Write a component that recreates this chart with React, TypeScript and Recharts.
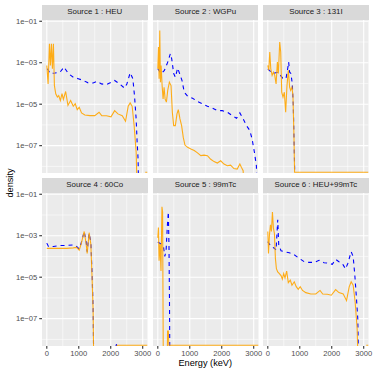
import React from 'react';
import { LineChart, Line, XAxis, YAxis, CartesianGrid } from 'recharts';

// ---- axes / labels ----
const ENERGY_TICKS = [0, 1000, 2000, 3000];
const ENERGY_MINOR = [500, 1500, 2500];
const DENSITY_TICKS = [1e-1, 1e-3, 1e-5, 1e-7];
const DENSITY_TICK_LABELS = ['1e\u221201', '1e\u221203', '1e\u221205', '1e\u221207'];
const DENSITY_MINOR = [1e-2, 1e-4, 1e-6, 1e-8];
const PANEL_TITLES = [
  'Source 1 : HEU',
  'Source 2 : WGPu',
  'Source 3 : 131I',
  'Source 4 : 60Co',
  'Source 5 : 99mTc',
  'Source 6 : HEU+99mTc',
];
const FLOOR = 5.2e-9; // values drawn on the lower panel edge
const OFF = 1e-10; // below the visible range

// ---- Source 1 : HEU ----
const heuBlueE = [21, 104, 259, 414, 538, 673, 828, 983, 1139, 1294, 1449, 1573, 1708, 1863, 2018, 2122, 2277, 2432, 2505, 2608, 2691, 2743, 2795, 2826, 2856, 2880];
const heuBlueD = [5.1e-4, 3.0e-4, 3.2e-4, 3.5e-4, 6.2e-4, 3.0e-4, 2.0e-4, 1.7e-4, 1.4e-4, 1.07e-4, 1.05e-4, 1.26e-4, 9.5e-5, 8.9e-5, 1.15e-4, 1.4e-4, 9.5e-5, 5.9e-5, 9.5e-5, 3.3e-4, 1.7e-4, 2.6e-5, 1.95e-6, 1.45e-7, 2.2e-8, OFF];
const heuOrangeE = [0, 41, 83, 114, 145, 176, 207, 238, 280, 331, 373, 424, 476, 518, 590, 662, 745, 828, 890, 952, 1014, 1087, 1190, 1346, 1501, 1635, 1718, 1863, 2008, 2122, 2225, 2360, 2463, 2546, 2608, 2670, 2732, 2795, 2840, 2950, 3080, 3150];
const heuOrangeD = [7.4e-4, 9.5e-5, 8.3e-3, 7.4e-4, 8.3e-3, 5.1e-4, 8.3e-3, 7.9e-5, 3.2e-5, 2.2e-5, 2.6e-5, 1.5e-5, 3.2e-5, 1.7e-5, 4.1e-5, 8.7e-6, 1.5e-5, 7.9e-6, 1.05e-5, 5.5e-6, 7.1e-6, 3.8e-6, 3.0e-6, 2.8e-6, 2.8e-6, 4.1e-6, 2.8e-6, 2.75e-6, 2.45e-6, 4.9e-6, 3.4e-6, 2.8e-6, 1.5e-6, 7.9e-6, 1.15e-5, 7.9e-6, 9.3e-7, 4.8e-8, OFF, null, FLOOR, FLOOR];

// ---- Source 2 : WGPu ----
const wgpuBlueE = [0, 104, 207, 311, 393, 435, 497, 549, 621, 683, 756, 828, 932, 1087, 1242, 1397, 1553, 1708, 1863, 2018, 2174, 2329, 2463, 2567, 2670, 2774, 2877, 2950, 3022, 3084, 3126];
const wgpuBlueD = [5.1e-4, 3.0e-4, 4.3e-4, 1.07e-3, 2.75e-3, 1.55e-3, 3.0e-4, 2.0e-4, 5.5e-4, 3.0e-4, 1.4e-4, 3.8e-5, 2.45e-5, 1.95e-5, 1.35e-5, 1.05e-5, 7.9e-6, 6.5e-6, 4.9e-6, 4.9e-6, 4.1e-6, 2.8e-6, 2.1e-6, 3.8e-6, 1.95e-6, 9.3e-7, 5.4e-7, 2.1e-7, 4.8e-8, 1.07e-8, OFF];
const wgpuOrangeE = [0, 21, 41, 62, 83, 104, 135, 166, 197, 228, 269, 311, 362, 414, 455, 497, 549, 600, 642, 693, 745, 797, 849, 932, 1035, 1139, 1242, 1346, 1449, 1553, 1656, 1760, 1863, 1967, 2070, 2174, 2277, 2380, 2484, 2567, 2618, 2670, 2710];
const wgpuOrangeD = [5.1e-4, 5.8e-3, 1.7e-4, 3.6e-2, 1.15e-4, 7.4e-4, 7.9e-5, 1.8e-5, 6.6e-5, 1.8e-5, 1.26e-5, 4.6e-5, 1.15e-4, 7.9e-5, 4.1e-6, 9.3e-7, 9.3e-7, 3.4e-6, 5.5e-6, 1.95e-6, 9.3e-7, 2.5e-7, 1.07e-7, 8.3e-8, 6.9e-8, 5.8e-8, 4.5e-8, 3.3e-8, 3.5e-8, 3.3e-8, 2.2e-8, 1.7e-8, 1.45e-8, 1.86e-8, 1.3e-8, 1.07e-8, 1.15e-8, 7.9e-9, 7.4e-9, 1.3e-8, 8.9e-9, 6.2e-9, OFF];

// ---- Source 3 : 131I ----
const i131BlueE = [0, 155, 311, 466, 569, 621, 652, 683, 724, 766, 797, 818, 838, 850];
const i131BlueD = [5.1e-4, 3.0e-4, 3.5e-4, 1.8e-4, 1.7e-4, 5.1e-4, 1.07e-3, 3.5e-4, 3.0e-4, 9.5e-5, 8.7e-6, 3.0e-7, 1.07e-8, OFF];
const i131OrangeE = [0, 31, 62, 93, 135, 176, 217, 259, 300, 331, 373, 404, 435, 476, 518, 559, 600, 642, 683, 714, 756, 787, 818, 838, 3150];
const i131OrangeD = [7.4e-4, 4.3e-4, 3.3e-3, 5.1e-4, 2.45e-4, 3.5e-4, 2.45e-4, 9.5e-5, 1.07e-3, 3.0e-4, 1.0e-2, 3.3e-3, 3.8e-5, 2.2e-5, 3.8e-5, 4.1e-6, 7.9e-5, 4.3e-4, 6.6e-5, 4.6e-5, 6.6e-5, 2.6e-5, 3.0e-7, FLOOR, FLOOR];

// ---- Source 4 : 60Co ----
const co60BlueE = [0, 52, 207, 414, 621, 828, 932, 1014, 1076, 1170, 1232, 1263, 1325, 1377, 1418, 1449, 1475, 1800, 2110, 2174, 2230];
const co60BlueD = [4.4e-4, 3.0e-4, 3.0e-4, 3.4e-4, 3.4e-4, 3.6e-4, 3.0e-4, 2.3e-4, 4.4e-4, 1.6e-3, 5.1e-4, 1.7e-4, 1.3e-3, 5.1e-4, 1.26e-5, 3.0e-7, OFF, null, OFF, 7.1e-9, OFF];
const co60OrangeE = [0, 207, 414, 621, 828, 932, 1014, 1076, 1170, 1232, 1263, 1325, 1377, 1418, 1449, 1475, 1800, 2150, 2200, 3150];
const co60OrangeD = [2.45e-4, 2.45e-4, 2.45e-4, 2.45e-4, 2.6e-4, 2.75e-4, 2.0e-4, 4.0e-4, 1.6e-3, 4.0e-4, 1.4e-4, 1.4e-3, 4.0e-4, 7.9e-6, 2.5e-7, OFF, null, OFF, FLOOR, FLOOR];

// ---- Source 5 : 99mTc ----
const tc99BlueE = [0, 100, 180, 220, 260, 300, 330, 350, 365, 380];
const tc99BlueD = [5.0e-4, 4.0e-4, 2.8e-4, 1.0e-4, 2.0e-4, 3.2e-3, 1.4e-2, 3.2e-4, 1.0e-6, OFF];
const tc99OrangeE = [0, 20, 40, 70, 100, 130, 150, 175, 290, 305, 330, 345, 3150];
const tc99OrangeD = [7.9e-4, 2.5e-3, 6.3e-5, 4.0e-4, 2.0e-5, 2.5e-2, 1.4e-2, OFF, OFF, 2.5e-8, 2.5e-8, FLOOR, FLOOR];

// ---- Source 6 : HEU+99mTc ----
const mixBlueE = [0, 104, 207, 259, 311, 342, 414, 518, 673, 828, 983, 1139, 1294, 1449, 1604, 1760, 1915, 2018, 2122, 2225, 2329, 2432, 2505, 2608, 2670, 2722, 2774, 2815, 2850];
const mixBlueD = [5.2e-4, 3.0e-4, 2.5e-4, 2.0e-4, 5.9e-3, 3.6e-4, 1.9e-4, 1.7e-4, 1.5e-4, 1.2e-4, 8.1e-5, 5.6e-5, 5.2e-5, 5.2e-5, 6.5e-5, 5.0e-5, 4.7e-5, 4.2e-5, 7.2e-5, 5.6e-5, 4.7e-5, 2.5e-5, 4.7e-5, 1.7e-4, 9.8e-5, 1.26e-5, 9.3e-7, 1.0e-7, OFF];
const mixOrangeE = [0, 21, 52, 83, 114, 145, 176, 207, 238, 269, 311, 362, 414, 455, 497, 538, 590, 642, 704, 756, 828, 890, 952, 1014, 1087, 1190, 1346, 1501, 1635, 1718, 1863, 1987, 2122, 2225, 2360, 2463, 2546, 2608, 2670, 2732, 2795, 2840, 2950, 3080, 3150];
const mixOrangeD = [1.6e-3, 1.4e-4, 1.1e-3, 3.4e-3, 1.6e-3, 1.4e-2, 2.3e-3, 1.3e-3, 8.1e-5, 2.6e-5, 1.8e-5, 1.5e-5, 1.2e-5, 8.1e-6, 1.5e-5, 9.3e-6, 1.95e-5, 5.5e-6, 7.2e-6, 4.1e-6, 6.0e-6, 3.5e-6, 2.6e-6, 3.5e-6, 2.3e-6, 1.8e-6, 1.55e-6, 1.55e-6, 2.3e-6, 1.55e-6, 1.5e-6, 1.35e-6, 2.5e-6, 1.8e-6, 1.55e-6, 7.4e-7, 3.4e-6, 6.0e-6, 4.1e-6, 6.5e-7, 3.2e-8, OFF, null, FLOOR, FLOOR];

const SERIES = [
  [heuBlueE, heuBlueD, heuOrangeE, heuOrangeD],
  [wgpuBlueE, wgpuBlueD, wgpuOrangeE, wgpuOrangeD],
  [i131BlueE, i131BlueD, i131OrangeE, i131OrangeD],
  [co60BlueE, co60BlueD, co60OrangeE, co60OrangeD],
  [tc99BlueE, tc99BlueD, tc99OrangeE, tc99OrangeD],
  [mixBlueE, mixBlueD, mixOrangeE, mixOrangeD],
];

const zip = (e: number[], d: (number | null)[]) => e.map((x, i) => ({ e: x, d: d[i] }));

// ---- layout ----
const FONT = '"Liberation Sans", Arial, Helvetica, sans-serif';
const PW = 105.5;
const PH = 153;
const COL_LEFT = [42, 152.7, 263.2];
const PLOT_TOP = [19.5, 192.5];
const STRIP_H = 14.5;
const Y_AXIS_W = 42;
const X_AXIS_H = 22;
const PAD_TOP = 6;
const PAD_RIGHT = 6;
const Y_DOMAIN = [4.8e-9, 0.115];
const X_DOMAIN = [-150, 3150];

const yLabel = (v: number) => {
  let best = 0;
  DENSITY_TICKS.forEach((t, i) => {
    if (Math.abs(Math.log10(t) - Math.log10(v)) < Math.abs(Math.log10(DENSITY_TICKS[best]) - Math.log10(v))) best = i;
  });
  return DENSITY_TICK_LABELS[best];
};

function Panel({ idx }: { idx: number }) {
  const col = idx % 3;
  const row = Math.floor(idx / 3);
  const showY = col === 0;
  const showX = row === 1;
  const yW = showY ? Y_AXIS_W : 0;
  const xH = showX ? X_AXIS_H : 0;
  const padTop = showY ? PAD_TOP : 0;
  const padRight = showX ? PAD_RIGHT : 0;
  const [be, bd, oe, od] = SERIES[idx] as any;
  const blue = zip(be, bd);
  const orange = zip(oe, od);
  return (
    <div style={{ position: 'absolute', left: COL_LEFT[col] - yW, top: PLOT_TOP[row] - padTop }}>
      <LineChart
        width={PW + yW + padRight}
        height={PH + xH + padTop}
        margin={{ top: padTop, right: padRight, bottom: 0, left: 0 }}
      >
        <CartesianGrid
          fill="#EBEBEB"
          stroke="#FFFFFF"
          strokeWidth={0.55}
          horizontalValues={DENSITY_MINOR}
          verticalValues={ENERGY_MINOR}
        />
        <CartesianGrid
          stroke="#FFFFFF"
          strokeWidth={1.1}
          horizontalValues={DENSITY_TICKS}
          verticalValues={ENERGY_TICKS}
        />
        <XAxis
          type="number"
          dataKey="e"
          domain={X_DOMAIN}
          allowDataOverflow
          ticks={ENERGY_TICKS}
          interval={0}
          hide={!showX}
          height={xH}
          axisLine={false}
          tickLine={{ stroke: '#333333', strokeWidth: 1.1 }}
          tickSize={2.75}
          tickMargin={1.5}
          tick={{ fontSize: 7.6, fill: '#4D4D4D', fontFamily: FONT }}
        />
        <YAxis
          type="number"
          dataKey="d"
          scale="log"
          domain={Y_DOMAIN}
          allowDataOverflow
          ticks={DENSITY_TICKS}
          interval={0}
          hide={!showY}
          width={yW}
          axisLine={false}
          tickLine={{ stroke: '#333333', strokeWidth: 1.1 }}
          tickSize={2.75}
          tickMargin={2}
          tickFormatter={yLabel}
          tick={{ fontSize: 7.6, fill: '#4D4D4D', fontFamily: FONT }}
        />
        <Line
          data={blue}
          dataKey="d"
          type="linear"
          stroke="#0000FF"
          strokeWidth={1.1}
          strokeDasharray="4 4"
          dot={false}
          activeDot={false}
          isAnimationActive={false}
        />
        <Line
          data={orange}
          dataKey="d"
          type="linear"
          stroke="#FFA500"
          strokeOpacity={0.9}
          strokeWidth={1.1}
          dot={false}
          activeDot={false}
          isAnimationActive={false}
        />
      </LineChart>
    </div>
  );
}

export default function App() {
  return (
    <div
      style={{
        position: 'fixed',
        left: 0,
        top: 0,
        width: 374,
        height: 374,
        background: '#FFFFFF',
        fontFamily: FONT,
        overflow: 'hidden',
      }}
    >
      {PANEL_TITLES.map((t, i) => {
        const col = i % 3;
        const row = Math.floor(i / 3);
        return (
          <div
            key={t}
            style={{
              position: 'absolute',
              left: COL_LEFT[col],
              top: PLOT_TOP[row] - STRIP_H,
              width: PW,
              height: STRIP_H,
              background: '#D9D9D9',
              color: '#1A1A1A',
              fontSize: 7.9,
              lineHeight: `${STRIP_H}px`,
              textAlign: 'center',
              whiteSpace: 'nowrap',
            }}
          >
            {t}
          </div>
        );
      })}
      {PANEL_TITLES.map((t, i) => (
        <Panel key={'p' + t} idx={i} />
      ))}
      <div
        style={{
          position: 'absolute',
          left: 42,
          width: 326.5,
          top: 357,
          fontSize: 9.2,
          lineHeight: '12px',
          textAlign: 'center',
          color: '#000000',
        }}
      >
        Energy (keV)
      </div>
      <div
        style={{
          position: 'absolute',
          left: 10 - 60,
          top: 183 - 6,
          width: 120,
          height: 12,
          fontSize: 9.2,
          lineHeight: '12px',
          textAlign: 'center',
          color: '#000000',
          transform: 'rotate(-90deg)',
        }}
      >
        density
      </div>
    </div>
  );
}
